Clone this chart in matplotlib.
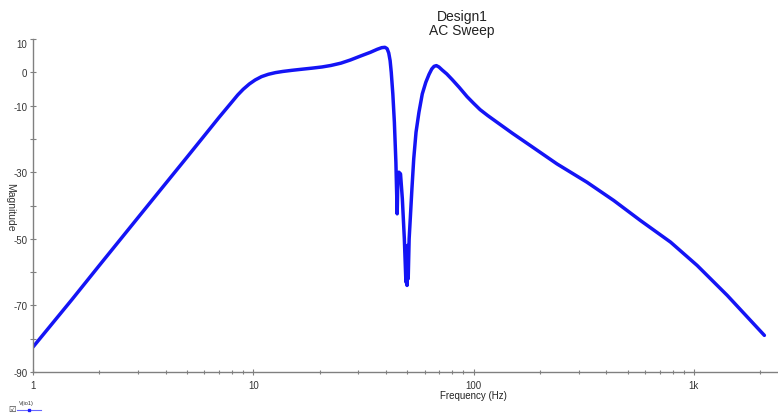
import matplotlib
matplotlib.use("Agg")
import matplotlib.pyplot as plt
from matplotlib.ticker import FixedLocator, NullFormatter

plt.rcParams['font.family'] = ['Liberation Sans', 'DejaVu Sans']

freq = [1, 1.5, 2, 3, 4, 5, 6, 7, 8, 8.5, 9.0, 9.6, 10.2, 10.9, 11.7, 12.6, 13.6,
        15, 16.5, 18.5, 20.5, 22.5, 25, 27.6, 31, 34, 36.5, 38.3, 39.6, 40.5, 41.2,
        41.8, 42.3, 43.0, 43.7, 44.4, 45.0, 45.3, 45.8, 46.6, 47.5, 48.5, 49.3,
        49.6, 49.9, 50.2, 50.5, 51.0, 51.6, 52.5, 53.5, 54.8, 56.5, 58.5, 60.7,
        62.8, 64.6, 66.2, 67.8, 69.6, 72.0, 75.6, 80, 86, 93.4, 100, 107, 116,
        127.8, 150, 181, 239, 327, 433, 572, 784, 1035, 1418, 2090]
mag = [-82.5, -68.3, -58.0, -43.6, -33.4, -25.5, -19.0, -13.5, -8.9, -6.8, -5.1, -3.5,
       -2.3, -1.3, -0.6, -0.1, 0.25,
       0.6, 0.9, 1.25, 1.6, 2.05, 2.75, 3.7, 5.0, 6.0, 6.9, 7.4, 7.5, 7.1, 5.8,
       3.5, 0.0, -6.5, -15, -27, -42.5, -33, -30, -30.5, -38, -50, -63,
       -55, -64, -52, -62, -50, -44, -35, -26, -18, -12, -6.5, -3.0,
       -0.6, 1.0, 1.8, 2.0, 1.6, 0.7, -0.5, -2.2, -4.5, -7.3, -9.3, -11.2, -13.0,
       -15.0, -18.3, -22, -27.5, -33, -38.5, -44.5, -51, -58, -67, -79]

ytick_vals = [10, 0, -10, -20, -30, -40, -50, -60, -70, -80, -90]
ytick_labels = ['10', '0', '-10', '', '-30', '', '-50', '', '-70', '', '-90']
xtick_vals = [1, 10, 100, 1000]
xtick_labels = ['1', '10', '100', '1k']

W, H = 778, 414
fig = plt.figure(figsize=(W / 100, H / 100), dpi=100)
left, right, top, bottom = 33, 778, 40, 373
ax = fig.add_axes([left / W, 1 - bottom / H, (right - left) / W, (bottom - top) / H])

ax.plot(freq, mag, color='#1414f5', lw=2.5, solid_joinstyle='round', solid_capstyle='round')
ax.set_xscale('log')
ax.set_xlim(1, 2410)
ax.set_ylim(-90, 10)

ax.xaxis.set_major_locator(FixedLocator(xtick_vals))
ax.set_xticklabels(xtick_labels)
minors = [m * 10 ** d for d in range(0, 4) for m in range(2, 10) if m * 10 ** d < 2410]
ax.xaxis.set_minor_locator(FixedLocator(minors))
ax.xaxis.set_minor_formatter(NullFormatter())
ax.set_yticks(ytick_vals)
ax.set_yticklabels(ytick_labels)
labs = ax.get_yticklabels()
labs[0].set_va('top')
labs[-1].set_va('center_baseline')

for s in ['top', 'right']:
    ax.spines[s].set_visible(False)
for s in ['left', 'bottom']:
    ax.spines[s].set_color('#808080')
    ax.spines[s].set_linewidth(1.0)
ax.tick_params(axis='both', which='both', colors='#808080', labelcolor='#333333',
               labelsize=7, direction='inout', length=4, width=0.8)
ax.tick_params(axis='x', which='minor', length=3)
ax.tick_params(axis='y', pad=2)
ax.tick_params(axis='x', pad=4)

fig.text(462 / W, 1 - 17 / H, 'Design1', ha='center', va='center', fontsize=10, color='#222222')
fig.text(462 / W, 1 - 31 / H, 'AC Sweep', ha='center', va='center', fontsize=10, color='#222222')
fig.text(473 / W, 1 - 396 / H, 'Frequency (Hz)', ha='center', va='center', fontsize=7, color='#222222')
fig.text(10 / W, 1 - 207 / H, 'Magnitude', ha='center', va='center', fontsize=7.5,
         rotation=270, color='#333333')

# legend
fig.text(12 / W, 1 - 409 / H, '\u2611', ha='center', va='center', fontsize=6,
         family='DejaVu Sans', color='#333333')
fig.text(19 / W, 1 - 404 / H, 'V(io1)', ha='left', va='center', fontsize=4, color='#333333')
fig.add_artist(plt.Line2D([17 / W, 41 / W], [1 - 411 / H, 1 - 411 / H], color='#6666ff', lw=0.8))
fig.add_artist(plt.Line2D([29 / W], [1 - 411 / H], color='#1a1aff', marker='s', markersize=2, lw=0))

fig.savefig('out.png', dpi=100)
